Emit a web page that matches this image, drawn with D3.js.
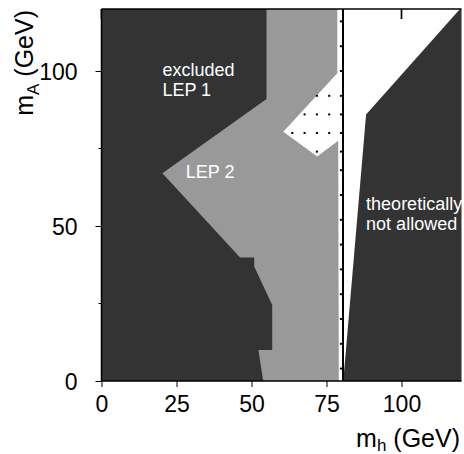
<!DOCTYPE html>
<html><head><meta charset="utf-8">
<script src="https://cdn.jsdelivr.net/npm/d3@7"></script>
<style>html,body{margin:0;padding:0;background:#fff}svg{display:block}text{font-family:"Liberation Sans",Arial,sans-serif}</style>
</head><body>
<script>
// ---- data (GeV) ----
const xTicks = [0, 25, 50, 75, 100];
const yTicks = [0, 50, 100];
const yMinorTicks = [25, 75];
const topTicks = [0, 25, 50, 75, 100];
// LEP 2 excluded region (grey), right boundary incl. the allowed "diamond"
const lep2Region = [[0,120],[78.6,120],[78.6,99.3],[60.6,80.4],[71.9,72.4],[78.9,77.5],[79.1,0],[0,0]];
// LEP 1 excluded region (dark)
const lep1Region = [[0,120],[55,120],[55,91],[20.3,67],[46.2,39.8],[50.9,39.8],[50.9,36.9],[56.9,24.5],[56.9,10],[52.3,10],[53.9,0],[0,0]];
// theoretically not allowed (dark)
const theoryRegion = [[80.6,0],[88.2,86],[119.5,120],[120,120],[120,0]];
// vertical line (m_h bound)
const boundMh = 80.5;
// scan points visible in allowed region
const scanColumnMh = 79.8;
const scanColumnMA = [4,12,20,28,36,44,52,60,68,74,80,86,92,100,108,116];
const scanDiamond = [[71.8,92],[75.9,92],[67.7,86],[71.8,86],[75.9,86],[63.6,80],[67.7,80],[71.8,80],[75.9,80],[71.8,74]];
const labels = [
  {lines:["excluded","LEP 1"], x:20.3, y:98.5},
  {lines:["LEP 2"], x:28.1, y:65.5},
  {lines:["theoretically","not allowed"], x:88.2, y:55.2}
];

const W = 464, H = 454;
const x = d3.scaleLinear([0,120],[101.5,461.5]);
const y = d3.scaleLinear([0,120],[381,9]);

const svg = d3.select("body").append("svg").attr("width",W).attr("height",H);

// inward top ticks (under fills)
svg.append("g").selectAll("line").data(topTicks).join("line")
  .attr("x1",d=>x(d)).attr("x2",d=>x(d)).attr("y1",y(120)).attr("y2",y(120)+10)
  .attr("stroke","#000").attr("stroke-width",1.7);

const line = d3.line().x(d=>x(d[0])).y(d=>y(d[1]));
svg.append("path").attr("d",line(lep2Region)+"Z").attr("fill","#999999");
svg.append("path").attr("d",line(lep1Region)+"Z").attr("fill","#333333");
svg.append("path").attr("d",line(theoryRegion)+"Z").attr("fill","#333333");

// scan points
const pts = scanColumnMA.map(a=>[scanColumnMh,a]).concat(scanDiamond);
svg.append("g").selectAll("rect").data(pts).join("rect")
  .attr("x",d=>x(d[0])-1).attr("y",d=>y(d[1])-1).attr("width",2).attr("height",2).attr("fill","#000");

// bound line
svg.append("line").attr("x1",x(boundMh)).attr("x2",x(boundMh)).attr("y1",y(120)).attr("y2",y(0))
  .attr("stroke","#000").attr("stroke-width",2);

// frame lines
svg.append("line").attr("x1",x(0)).attr("x2",x(120)).attr("y1",y(120)).attr("y2",y(120)).attr("stroke","#000").attr("stroke-width",1.5);
svg.append("line").attr("x1",x(0)).attr("x2",x(120)).attr("y1",y(0)).attr("y2",y(0)).attr("stroke","#000").attr("stroke-width",1.5);
svg.append("line").attr("x1",x(0)).attr("x2",x(0)).attr("y1",y(120)).attr("y2",y(0)).attr("stroke","#000").attr("stroke-width",1.5);

// x axis
const gx = svg.append("g").attr("transform",`translate(0,${y(0)})`)
  .call(d3.axisBottom(x).tickValues(xTicks).tickSize(6).tickPadding(9).tickFormat(d3.format("d")));
gx.select(".domain").remove();
gx.selectAll("text").attr("font-size",23).attr("fill","#000").attr("font-family","Liberation Sans, Arial, sans-serif");

// y axis
const gy = svg.append("g").attr("transform",`translate(${x(0)},0)`)
  .call(d3.axisLeft(y).tickValues(yTicks).tickSize(6).tickPadding(18).tickFormat(d3.format("d")));
gy.select(".domain").remove();
gy.selectAll("text").attr("font-size",23).attr("fill","#000").attr("dy","0.38em").attr("font-family","Liberation Sans, Arial, sans-serif");
svg.append("g").selectAll("line").data(yMinorTicks).join("line")
  .attr("x1",x(0)-3).attr("x2",x(0)).attr("y1",d=>y(d)).attr("y2",d=>y(d)).attr("stroke","#000");

// axis titles
const xt = svg.append("text").attr("x",460).attr("y",446.5).attr("text-anchor","end").attr("font-size",25);
xt.append("tspan").text("m");
xt.append("tspan").attr("font-size",17).attr("dy",4).text("h");
xt.append("tspan").attr("dy",-4).text(" (GeV)");

const yt = svg.append("text").attr("transform","translate(33,10) rotate(-90)").attr("text-anchor","end").attr("font-size",25);
yt.append("tspan").text("m");
yt.append("tspan").attr("font-size",17).attr("dy",6).text("A");
yt.append("tspan").attr("dy",-6).text(" (GeV)");

// region labels
labels.forEach(l=>{
  const t = svg.append("text").attr("x",x(l.x)).attr("y",y(l.y)).attr("font-size",18).attr("fill","#fff");
  l.lines.forEach((s,i)=>t.append("tspan").attr("x",x(l.x)).attr("dy",i?20:0).text(s));
});
</script>
</body></html>
